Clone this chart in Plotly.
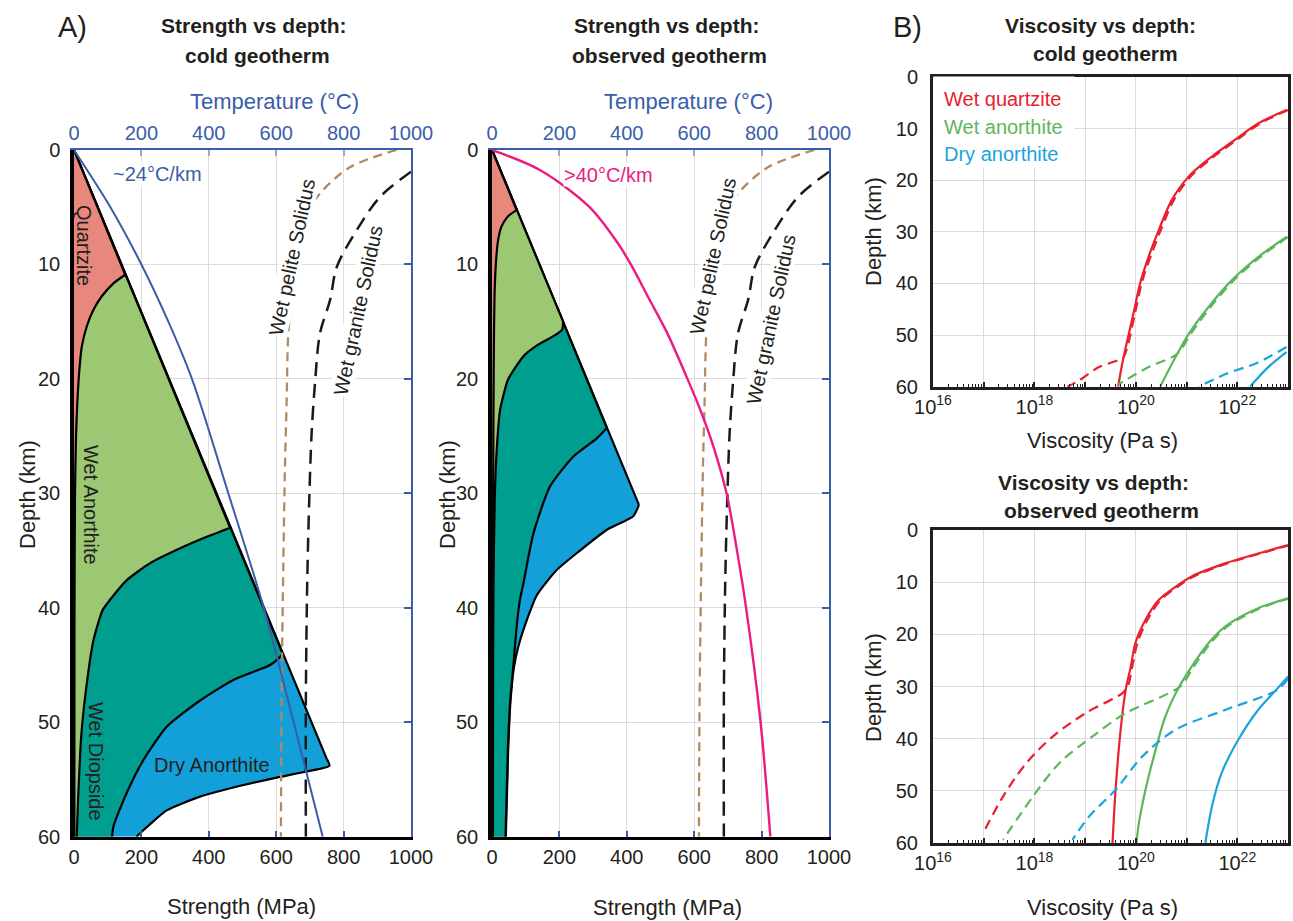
import plotly.graph_objects as go

W, H = 1293, 921

# ---------------- data ----------------
strength_ticks = [0, 200, 400, 600, 800, 1000]
temperature_ticks = [0, 200, 400, 600, 800, 1000]
depth_ticks = [0, 10, 20, 30, 40, 50, 60]
visc_decades = [16, 17, 18, 19, 20, 21, 22, 23]
visc_labels = ["10<sup>16</sup>", " ", "10<sup>18</sup>", " ", "10<sup>20</sup>", " ", "10<sup>22</sup>", " "]

# Panel A, cold geotherm: strength envelopes (depth km, strength MPa)
cold_qtz_depth = [0, 10.9, 11.65, 12.8, 14.0, 15.4, 17.2, 19.2, 22.0, 25.0, 30.0, 40.0, 60.0]
cold_qtz_strength = [0, 152, 117, 82, 57, 38, 23, 16, 10, 6, 3, 1.5, 1]
cold_wan_depth = [0, 33.0, 33.8, 34.8, 36.1, 37.6, 39.3, 40.2, 42.8, 46.6, 51.0, 56.8, 60.0]
cold_wan_strength = [0, 463, 394, 315, 226, 156, 107, 85, 58, 38, 22, 12, 8]
cold_wdi_depth = [0, 44.0, 44.4, 45.0, 46.3, 48.1, 50.4, 53.3, 56.2, 59.1, 60.0]
cold_wdi_strength = [0, 619, 608, 582, 473, 374, 275, 206, 156, 117, 113]
cold_dan_depth = [0, 53.2, 53.8, 54.3, 54.9, 55.7, 56.5, 57.7, 58.9, 59.7, 60.0]
cold_dan_strength = [0, 750, 758, 690, 591, 473, 374, 275, 226, 196, 186]

# Panel A, observed geotherm
obs_qtz_depth = [0, 5.25, 5.8, 6.7, 7.9, 9.3, 12.2, 16.0, 19.2, 25.0, 35.0, 60.0]
obs_qtz_strength = [0, 73, 47, 28, 18, 13, 8, 6, 5, 4, 3, 2]
obs_wan_depth = [0, 15.0, 15.7, 16.2, 17.0, 17.9, 19.1, 20.1, 22.7, 26.2, 30.6, 39.0, 50.0, 60.0]
obs_wan_strength = [0, 211, 208, 186, 137, 97, 67, 47, 24, 14, 8, 4, 3, 2.5]
obs_wdi_depth = [0, 24.3, 25.2, 26.8, 29.4, 33.5, 37.9, 39.3, 41.1, 43.4, 45.2, 48.1, 52.4, 60.0]
obs_wdi_strength = [0, 341, 311, 241, 172, 123, 93, 83, 75, 68, 63, 54, 47, 40]
obs_dan_depth = [0, 31.0, 32.0, 33.2, 35.0, 36.7, 38.9, 41.1, 43.4, 45.2, 48.1, 52.4, 60.0]
obs_dan_strength = [0, 436, 419, 340, 261, 192, 133, 103, 78, 65, 55, 48, 41]

# Geotherms (depth km, temperature C)
cold_geo_depth = [0, 5, 10, 15, 20, 30, 40, 50, 60]
cold_geo_temp = [0, 108, 200, 280, 350, 458, 563, 652, 738]
obs_geo_depth = [0, 1.75, 4.95, 8.0, 10.0, 13.0, 16.0, 20.0, 23.0, 26.0, 30.0, 35.0, 40.0, 50.0, 60.0]
obs_geo_temp = [0, 142, 288, 370, 412, 466, 520, 580, 622, 658, 696, 727, 754, 797, 826]

# Solidi (depth km, temperature C)
pelite_depth = [0, 1.5, 3.8, 6.1, 9.3, 13.1, 16.0, 21.9, 27.7, 36.4, 48.0, 60.0]
pelite_temp = [957, 819, 730, 680, 656, 646, 636, 631, 626, 621, 616, 614]
granite_depth = [1.9, 4.1, 7.0, 10.2, 13.1, 16.0, 20.4, 24.8, 30.6, 37.9, 48.0, 60.0]
granite_temp = [1000, 908, 839, 780, 760, 730, 715, 705, 698, 692, 688, 688]

# Panel B, cold geotherm: log10 viscosity (Pa s) vs depth (km)
cq_depth = [6.4, 9.0, 12.2, 15.4, 19.3, 23.8, 29.7, 33.5, 39.4, 45.9, 52.4, 55.6, 60.0]
cq_logvisc = [22.97, 22.41, 21.95, 21.5, 21.04, 20.71, 20.45, 20.3, 20.1, 19.95, 19.8, 19.73, 19.65]
cq_d_depth = [6.4, 9.0, 12.2, 15.4, 19.3, 23.8, 29.7, 33.5, 39.4, 45.9, 52.4, 54.3, 56.2, 58.8, 60.0]
cq_d_logvisc = [23.0, 22.45, 21.99, 21.54, 21.08, 20.75, 20.49, 20.34, 20.13, 19.98, 19.83, 19.75, 19.27, 18.88, 18.65]
ca_depth = [31.0, 34.9, 39.4, 44.6, 49.8, 54.3, 60.0]
ca_logvisc = [22.97, 22.41, 21.89, 21.43, 21.04, 20.78, 20.48]
ca_d_depth = [31.0, 34.9, 39.4, 44.6, 49.8, 53.6, 56.2, 59.6]
ca_d_logvisc = [23.0, 22.45, 21.93, 21.47, 21.08, 20.82, 20.25, 19.65]
cd_depth = [53.3, 56.2, 60.0]
cd_logvisc = [22.97, 22.61, 22.25]
cd_d_depth = [52.3, 55.3, 57.6, 60.0]
cd_d_logvisc = [22.97, 22.41, 21.76, 21.24]

# Panel B, observed geotherm
oq_depth = [2.9, 4.5, 6.4, 8.9, 10.9, 13.4, 17.2, 21.7, 26.2, 30.6, 38.3, 49.8, 60.0]
oq_logvisc = [23.0, 22.41, 21.76, 21.1, 20.78, 20.45, 20.19, 19.99, 19.9, 19.8, 19.7, 19.6, 19.54]
oq_d_depth = [2.9, 4.5, 6.4, 8.9, 10.9, 13.4, 17.2, 21.7, 26.2, 30.0, 31.3, 35.1, 39.6, 44.7, 51.1, 58.1]
oq_d_logvisc = [23.04, 22.45, 21.8, 21.14, 20.82, 20.49, 20.23, 20.03, 19.93, 19.84, 19.73, 19.01, 18.36, 17.84, 17.38, 16.99]
oa_depth = [13.1, 15.0, 18.5, 21.7, 26.2, 30.3, 35.8, 42.1, 49.8, 56.2, 60.0]
oa_logvisc = [23.0, 22.41, 21.76, 21.43, 21.1, 20.84, 20.58, 20.39, 20.19, 20.06, 20.01]
oa_d_depth = [13.1, 15.0, 18.5, 21.7, 26.2, 29.8, 31.3, 35.1, 39.6, 44.7, 51.1, 59.4]
oa_d_logvisc = [23.04, 22.45, 21.8, 21.47, 21.14, 20.9, 20.65, 19.8, 19.14, 18.49, 17.97, 17.38]
od_depth = [28.1, 30.6, 34.5, 40.2, 46.6, 53.0, 60.0]
od_logvisc = [23.0, 22.77, 22.41, 22.02, 21.69, 21.5, 21.37]
od_d_depth = [28.5, 30.6, 34.5, 38.3, 43.4, 49.8, 54.9, 59.4]
od_d_logvisc = [23.0, 22.8, 21.76, 20.78, 20.13, 19.6, 19.08, 18.75]

# ---------------- styles ----------------
FONT = "Liberation Sans"
TXT = "#231F20"
BLUE_AX = "#3A5DAA"
C_QTZ, C_WAN, C_WDI, C_DAN = "#E8877B", "#9DC873", "#009E8F", "#13A0D8"
C_PINK = "#EC1A82"
C_BROWN = "#B38A5E"
C_RED, C_GREEN, C_CYAN = "#E8212E", "#5DB65B", "#1BA3DD"


def fx(p):
    return p / W


def fy(p):
    return 1 - p / H


fig = go.Figure()


def envelope(depth, strength, color, xa, ya):
    # filled region (straight segments), then outline: brittle segment + smooth ductile curve
    fig.add_trace(go.Scatter(x=strength + [0], y=depth + [60], fill="toself", fillcolor=color,
                             mode="lines", line=dict(width=0, color=color),
                             xaxis=xa, yaxis=ya, showlegend=False, hoverinfo="skip"))
    fig.add_trace(go.Scatter(x=strength[:2], y=depth[:2], mode="lines",
                             line=dict(color="black", width=2.2),
                             xaxis=xa, yaxis=ya, showlegend=False, hoverinfo="skip"))
    fig.add_trace(go.Scatter(x=strength[1:], y=depth[1:], mode="lines",
                             line=dict(color="black", width=2.2, shape="spline", smoothing=0.6),
                             xaxis=xa, yaxis=ya, showlegend=False, hoverinfo="skip"))


def line(x, y, color, xa, ya, dash="solid", width=2.2):
    fig.add_trace(go.Scatter(x=x, y=y, mode="lines",
                             line=dict(color=color, width=width, dash=dash, shape="spline", smoothing=0.9),
                             xaxis=xa, yaxis=ya, showlegend=False, hoverinfo="skip"))


# Panel A left (cold)
envelope(cold_dan_depth, cold_dan_strength, C_DAN, "x", "y")
envelope(cold_wdi_depth, cold_wdi_strength, C_WDI, "x", "y")
envelope(cold_wan_depth, cold_wan_strength, C_WAN, "x", "y")
envelope(cold_qtz_depth, cold_qtz_strength, C_QTZ, "x", "y")
line(pelite_temp, pelite_depth, C_BROWN, "x2", "y", dash="9px,6px", width=2.3)
line(granite_temp, granite_depth, "#1A1A1A", "x2", "y", dash="14px,8px", width=2.5)
line(cold_geo_temp, cold_geo_depth, BLUE_AX, "x2", "y", width=2)
fig.add_trace(go.Scatter(x=[None], y=[None], xaxis="x", yaxis="y2", showlegend=False))

# Panel A middle (observed)
envelope(obs_dan_depth, obs_dan_strength, C_DAN, "x3", "y3")
envelope(obs_wdi_depth, obs_wdi_strength, C_WDI, "x3", "y3")
envelope(obs_wan_depth, obs_wan_strength, C_WAN, "x3", "y3")
envelope(obs_qtz_depth, obs_qtz_strength, C_QTZ, "x3", "y3")
line(pelite_temp, pelite_depth, C_BROWN, "x4", "y3", dash="9px,6px", width=2.3)
line(granite_temp, granite_depth, "#1A1A1A", "x4", "y3", dash="14px,8px", width=2.5)
line(obs_geo_temp, obs_geo_depth, C_PINK, "x4", "y3", width=2.4)
fig.add_trace(go.Scatter(x=[None], y=[None], xaxis="x3", yaxis="y4", showlegend=False))


def vis(logs):
    return [10.0 ** v for v in logs]


VD = "10px,6px"
# Panel B top (cold)
line(vis(cq_d_logvisc), cq_d_depth, C_RED, "x5", "y5", dash=VD)
line(vis(cq_logvisc), cq_depth, C_RED, "x5", "y5")
line(vis(ca_d_logvisc), ca_d_depth, C_GREEN, "x5", "y5", dash=VD)
line(vis(ca_logvisc), ca_depth, C_GREEN, "x5", "y5")
line(vis(cd_d_logvisc), cd_d_depth, C_CYAN, "x5", "y5", dash=VD)
line(vis(cd_logvisc), cd_depth, C_CYAN, "x5", "y5")
# Panel B bottom (observed)
line(vis(oq_d_logvisc), oq_d_depth, C_RED, "x6", "y6", dash=VD)
line(vis(oq_logvisc), oq_depth, C_RED, "x6", "y6")
line(vis(oa_d_logvisc), oa_d_depth, C_GREEN, "x6", "y6", dash=VD)
line(vis(oa_logvisc), oa_depth, C_GREEN, "x6", "y6")
line(vis(od_d_logvisc), od_d_depth, C_CYAN, "x6", "y6", dash=VD)
line(vis(od_logvisc), od_depth, C_CYAN, "x6", "y6")

# ---------------- axes ----------------
GRID = "#DCDCDC"
tickfont = dict(family=FONT, size=20, color=TXT)
ydomA = [fy(836.7), fy(150)]


def strength_x(domain):
    return dict(domain=domain, range=[0, 1000], tickvals=strength_ticks, showline=True, linecolor="black",
                linewidth=3, ticks="inside", ticklen=6, tickwidth=2, tickcolor=BLUE_AX, showgrid=True,
                gridcolor=GRID, gridwidth=1.3, zeroline=False, tickfont=tickfont, ticklabelstandoff=0,
                automargin=False)


def temp_x(over, anchor):
    return dict(overlaying=over, anchor=anchor, side="top", range=[0, 1000], tickvals=temperature_ticks,
                showline=True, linecolor=BLUE_AX, linewidth=2.2, ticks="inside", ticklen=6, tickwidth=1.5,
                tickcolor="#9AA7C8", showgrid=False, zeroline=False,
                tickfont=dict(family=FONT, size=20, color=BLUE_AX), ticklabelstandoff=0, automargin=False)


def depth_y(anchor):
    return dict(domain=ydomA, anchor=anchor, range=[60, 0], tickvals=depth_ticks, showline=True,
                linecolor="black", linewidth=3.5, ticks="", showgrid=True, gridcolor=GRID, gridwidth=1.3,
                zeroline=False, tickfont=tickfont, ticklabelstandoff=6, automargin=False)


def right_y(over, anchor):
    return dict(overlaying=over, anchor=anchor, side="right", range=[60, 0], tickvals=depth_ticks,
                showticklabels=False, showline=True, linecolor=BLUE_AX, linewidth=2.2, ticks="inside",
                ticklen=7, tickwidth=2, tickcolor=BLUE_AX, showgrid=False, zeroline=False, automargin=False)


minor_vals = [k * 10.0 ** n for n in range(16, 23) for k in range(2, 10)]


def visc_x(domain, anchor):
    return dict(domain=domain, anchor=anchor, type="log", range=[16, 23],
                tickvals=[10.0 ** e for e in visc_decades], ticktext=visc_labels, showline=True,
                linecolor="#231F20", linewidth=3, mirror=True, ticks="inside", ticklen=5, tickwidth=1.5,
                tickcolor="#231F20", showgrid=True, gridcolor=GRID, gridwidth=1.3, zeroline=False,
                tickfont=tickfont, ticklabelstandoff=0, automargin=False,
                minor=dict(tickvals=minor_vals, ticks="inside", ticklen=3, tickwidth=1, tickcolor="#231F20",
                           showgrid=False))


def visc_y(domain, anchor):
    return dict(domain=domain, anchor=anchor, range=[60, 0], tickvals=depth_ticks, showline=True,
                linecolor="#231F20", linewidth=3, mirror=True, ticks="", showgrid=True, gridcolor=GRID,
                gridwidth=1.3, zeroline=False, tickfont=tickfont, ticklabelstandoff=8, automargin=False)


xdomB = [fx(933), fx(1288)]
fig.update_layout(
    width=W, height=H, margin=dict(l=0, r=0, t=0, b=0, autoexpand=False), paper_bgcolor="white",
    plot_bgcolor="white", showlegend=False, font=dict(family=FONT, color=TXT),
    xaxis=dict(strength_x([fx(74), fx(411)]), anchor="y"),
    yaxis=depth_y("x"),
    xaxis2=temp_x("x", "y"),
    yaxis2=right_y("y", "x"),
    xaxis3=dict(strength_x([fx(492), fx(829)]), anchor="y3"),
    yaxis3=depth_y("x3"),
    xaxis4=temp_x("x3", "y3"),
    yaxis4=right_y("y3", "x3"),
    xaxis5=visc_x(xdomB, "y5"),
    yaxis5=visc_y([fy(386.7), fy(77)], "x5"),
    xaxis6=visc_x(xdomB, "y6"),
    yaxis6=visc_y([fy(843), fy(530)], "x6"),
)

# ---------------- text ----------------
ann = []


def T(text, x, y, size=20, color=TXT, angle=0, xanchor="center", bg=None, bold=False, pad=0, **kw):
    d = dict(text=("<b>%s</b>" % text) if bold else text, x=fx(x), y=fy(y), xref="paper", yref="paper",
             showarrow=False, xanchor=xanchor, yanchor="middle", textangle=angle,
             font=dict(family=FONT, size=size, color=color), borderpad=pad)
    if bg:
        d["bgcolor"] = bg
    d.update(kw)
    ann.append(d)


# legend white box (covers grid)
T(" ", 933, 122, xanchor="left", bg="white", width=140, height=90)

T("A)", 72, 27, size=29)
T("B)", 907, 27, size=29)
T("Strength vs depth:", 254, 25, size=21, bold=True)
T("cold geotherm", 257, 55, size=21, bold=True)
T("Strength vs depth:", 667, 25, size=21, bold=True)
T("observed geotherm", 669, 55, size=21, bold=True)
T("Viscosity vs depth:", 1100, 25, size=21, bold=True)
T("cold geotherm", 1105, 53, size=21, bold=True)
T("Viscosity vs depth:", 1093, 482, size=21, bold=True)
T("observed geotherm", 1101, 510, size=21, bold=True)

T("Temperature (°C)", 274, 101, size=22, color=BLUE_AX)
T("Temperature (°C)", 688, 101, size=22, color=BLUE_AX)
T("Strength (MPa)", 241, 906, size=22)
T("Strength (MPa)", 667, 907, size=22)
T("Depth (km)", 27, 495, size=22, angle=-90)
T("Depth (km)", 447, 495, size=22, angle=-90)
T("Depth (km)", 873, 232, size=22, angle=-90)
T("Depth (km)", 873, 688, size=22, angle=-90)
T("Viscosity (Pa s)", 1102, 440, size=22)
T("Viscosity (Pa s)", 1102, 907, size=22)

T("Quartzite", 84, 245, size=20, angle=90)
T("Wet Anorthite", 91, 505, size=20, angle=90)
T("Wet Diopside", 96, 761, size=20, angle=90)
T("Dry Anorthite", 212, 765, size=20)
T("~24°C/km", 157, 174, size=20, color=BLUE_AX, bg="white")
T(">40°C/km", 608, 175, size=20, color=C_PINK, bg="white")

T("Wet pelite Solidus", 292, 257, size=20, angle=-78, bg="white")
T("Wet granite Solidus", 358, 311, size=20, angle=-78, bg="white")
T("Wet pelite Solidus", 713, 256, size=20, angle=-78, bg="white")
T("Wet granite Solidus", 771, 320, size=20, angle=-78, bg="white")

T("Wet quartzite", 943, 99, size=20, color=C_RED, xanchor="left")
T("Wet anorthite", 943, 127, size=20, color=C_GREEN, xanchor="left")
T("Dry anorthite", 943, 154, size=20, color=C_CYAN, xanchor="left")

fig.update_layout(annotations=ann)
fig.write_html("out.html", config={"displayModeBar": False},
               post_script="document.body.style.margin='0px';")
